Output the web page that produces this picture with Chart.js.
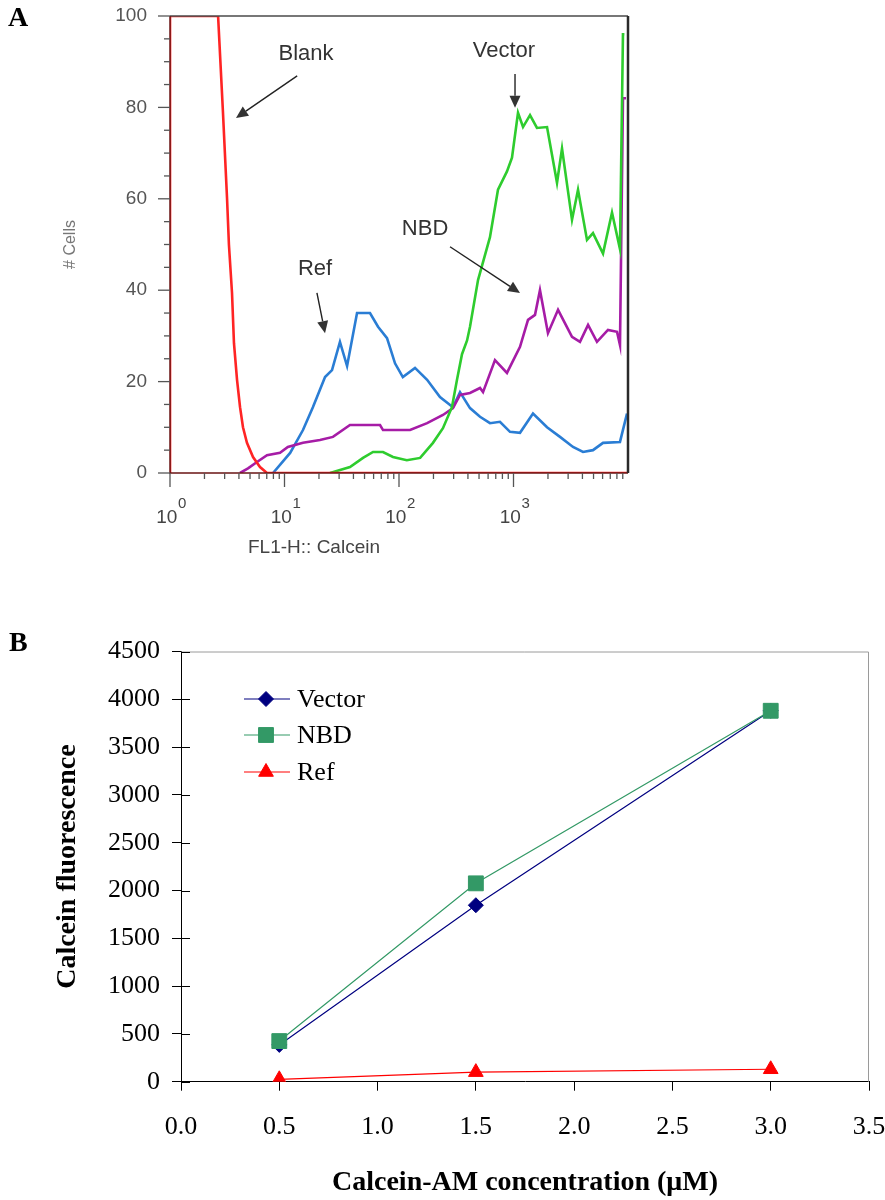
<!DOCTYPE html>
<html>
<head>
<meta charset="utf-8">
<script src="https://cdn.jsdelivr.net/npm/chart.js"></script>
<style>
  body { margin: 0; background: #fff; width: 885px; height: 1200px; position: relative; overflow: hidden; }
  #wrapA { position: absolute; left: 0; top: 0; width: 696px; height: 570px; }
  #wrapB { position: absolute; left: 0; top: 600px; width: 885px; height: 600px; }
  .panel { position: absolute; font: bold 28px "Liberation Serif", "Times New Roman", serif; line-height: 1; }
</style>
</head>
<body>
<div id="wrapA"><canvas id="histChart" width="696" height="570"></canvas></div>
<div id="wrapB"><canvas id="doseChart" width="885" height="600"></canvas></div>
<div class="panel" style="left:8px; top:3px;">A</div>
<div class="panel" style="left:9px; top:628px;">B</div>
<script>
// ---- panel A: flow cytometry histogram (FL1-H channel, log scale) ----
const blankX = [1, 1, 2.63, 2.90, 3.15, 3.27, 3.48, 3.62, 3.85, 4.09, 4.34, 4.70, 5.31, 6.11, 7.03, 10000];
const blankY = [0, 100, 100, 79, 60, 50, 39.4, 28.4, 20.4, 14.4, 10, 6.6, 3.5, 1.3, 0, 0];

const refX = [7.94, 11.2, 14.5, 17.7, 22.6, 26.0, 30.5, 35.2, 43.0, 55.8, 65.6, 78.6, 92.3, 108, 138, 176, 228, 296, 341, 417,
              510, 623, 762, 932, 1140, 1480, 1963, 2547, 3311, 4046, 4946, 6050, 8511, 9800];
const refY = [0, 4.4, 9.4, 14.4, 21, 22.5, 28.7, 23.4, 35, 35, 32, 29.5, 24, 21, 23, 20.4, 16.6, 14.4, 17.7, 14.2,
              12.3, 10.9, 11.2, 9, 8.8, 13, 10, 7.9, 5.7, 4.6, 5, 6.6, 6.8, 13];

const nbdX = [4.09, 4.80, 5.75, 7.03, 9.14, 10.7, 14.5, 20.4, 26.5, 37.3, 68.3, 72.5, 125, 176, 242, 296, 341, 417, 510, 542,
              689, 877, 1140, 1339, 1541, 1703, 2000, 2449, 3243, 3808, 4478, 5358, 6683, 8016, 8511, 9036, 9610];
const nbdY = [0, 1, 2.4, 3.9, 4.4, 5.7, 6.6, 7.2, 7.9, 10.5, 10.5, 9.4, 9.4, 10.9, 12.7, 14.2, 17.1, 17.5, 18.6, 17.7,
              24.7, 21.9, 27.6, 33.5, 34.6, 40, 30.6, 35.7, 29.8, 28.7, 32.4, 28.7, 31.3, 30.9, 28, 82, 82];

const vecX = [25.0, 37.3, 48.5, 59.3, 72.5, 88.6, 117, 153, 198, 242, 290, 321, 355, 393, 417, 490, 623, 732, 877, 970,
              1095, 1211, 1394, 1603, 1963, 2399, 2653, 3243, 3660, 4385, 4946, 6050, 7250, 8511, 9036, 9300];
const vecY = [0, 1.3, 3.3, 4.6, 4.6, 3.5, 2.8, 3.3, 6.6, 9.8, 14.4, 20.4, 26, 29, 32, 42.2, 51.6, 62, 66, 69,
              78.8, 75.7, 78.3, 75.5, 75.7, 63.5, 71, 55.4, 62, 51, 52.5, 48, 57, 49, 96, 96];

const decades = [1, 10, 100, 1000];
const decadeExponents = ['0', '1', '2', '3'];

// labels with arrows, in data units
const callouts = [
  { text: 'Blank',  x: 15.4, y: 91.7, from: [12.9, 86.9], to: [3.77, 77.7] },
  { text: 'Vector', x: 826,  y: 92.3, from: [1031, 87.3], to: [1031, 79.9] },
  { text: 'Ref',    x: 18.5, y: 44.6, from: [19.2, 39.4], to: [22.6, 30.6] },
  { text: 'NBD',    x: 169,  y: 53.4, from: [279, 49.5],  to: [1140, 39.4] },
];

// ---- panel B: dose response ----
const concentration = [0.5, 1.5, 3.0];
const vectorValues = [385, 1846, 3880];
const nbdValues = [425, 2075, 3880];
const refValues = [25, 100, 130];

const pairs = (xs, ys) => xs.map((x, i) => ({ x: x, y: ys[i] }));
const sansFont = '"Liberation Sans", Arial, sans-serif';
const serifFont = '"Liberation Serif", "Times New Roman", serif';

// nudge the layout padding so the plot box sits where the figure has it
function pinTopRight(chart, top, right) {
  const a = chart.chartArea;
  const p = chart.options.layout.padding;
  const dTop = a.top - top;
  const dRight = right - a.right;
  if (Math.abs(dTop) > 0.2 || Math.abs(dRight) > 0.2) {
    p.top -= dTop;
    p.right += dRight;
    chart.update();
  }
}

function arrow(ctx, x1, y1, x2, y2) {
  const ang = Math.atan2(y2 - y1, x2 - x1);
  const head = 12, half = 5.5;
  const bx = x2 - head * Math.cos(ang), by = y2 - head * Math.sin(ang);
  ctx.beginPath();
  ctx.moveTo(x1, y1);
  ctx.lineTo(bx, by);
  ctx.stroke();
  ctx.beginPath();
  ctx.moveTo(x2, y2);
  ctx.lineTo(bx + half * Math.sin(ang), by - half * Math.cos(ang));
  ctx.lineTo(bx - half * Math.sin(ang), by + half * Math.cos(ang));
  ctx.closePath();
  ctx.fill();
}

const histOverlay = {
  id: 'histOverlay',
  afterDatasetsDraw(chart) {
    const { ctx, chartArea: a, scales: { x, y } } = chart;
    ctx.save();
    // frame
    ctx.lineWidth = 1.5;
    ctx.strokeStyle = '#4a4a4a';
    ctx.beginPath(); ctx.moveTo(a.left, a.top); ctx.lineTo(a.right, a.top); ctx.stroke();
    ctx.strokeStyle = '#6a1414';
    ctx.beginPath(); ctx.moveTo(a.left, a.top); ctx.lineTo(a.left, a.bottom); ctx.lineTo(a.right, a.bottom); ctx.stroke();
    ctx.lineWidth = 2.5;
    ctx.strokeStyle = '#2a2a2a';
    ctx.beginPath(); ctx.moveTo(a.right, a.top); ctx.lineTo(a.right, a.bottom); ctx.stroke();

    // y tick marks
    ctx.lineWidth = 1.3;
    ctx.strokeStyle = '#555';
    y.ticks.forEach(t => {
      const py = y.getPixelForValue(t.value);
      const len = t.value % 20 === 0 ? 12 : 6;
      ctx.beginPath(); ctx.moveTo(a.left - len, py); ctx.lineTo(a.left, py); ctx.stroke();
    });
    // x tick marks
    x.ticks.forEach(t => {
      if (t.value >= 10000) return;
      const px = x.getPixelForValue(t.value);
      const len = decades.includes(t.value) ? 14 : 6;
      ctx.beginPath(); ctx.moveTo(px, a.bottom); ctx.lineTo(px, a.bottom + len); ctx.stroke();
    });
    // x tick labels 10^n
    ctx.fillStyle = '#444';
    ctx.textBaseline = 'middle';
    ctx.textAlign = 'left';
    decades.forEach((v, i) => {
      const px = x.getPixelForValue(v);
      ctx.font = '19px ' + sansFont;
      const w1 = ctx.measureText('10').width;
      ctx.font = '15px ' + sansFont;
      const w2 = ctx.measureText(decadeExponents[i]).width;
      const start = px + 1 - (w1 + w2) / 2;
      ctx.font = '19px ' + sansFont;
      ctx.fillText('10', start, a.bottom + 45);
      ctx.font = '15px ' + sansFont;
      ctx.fillText(decadeExponents[i], start + w1 + 0.5, a.bottom + 31);
    });

    // callouts
    ctx.fillStyle = '#333';
    ctx.strokeStyle = '#222';
    ctx.lineWidth = 1.4;
    ctx.font = '22px ' + sansFont;
    ctx.textAlign = 'center';
    callouts.forEach(c => {
      ctx.fillText(c.text, x.getPixelForValue(c.x), y.getPixelForValue(c.y));
      arrow(ctx,
        x.getPixelForValue(c.from[0]), y.getPixelForValue(c.from[1]),
        x.getPixelForValue(c.to[0]), y.getPixelForValue(c.to[1]));
    });
    ctx.restore();
  }
};

const histChart = new Chart(document.getElementById('histChart'), {
  type: 'line',
  data: {
    datasets: [
      { label: 'Blank', data: pairs(blankX, blankY), borderColor: '#ff2424' },
      { label: 'Vector', data: pairs(vecX, vecY), borderColor: '#2ecc2e' },
      { label: 'NBD', data: pairs(nbdX, nbdY), borderColor: '#a61ca6' },
      { label: 'Ref', data: pairs(refX, refY), borderColor: '#2a7dd4' },
    ],
  },
  options: {
    responsive: false,
    animation: false,
    layout: { padding: { top: 16, right: 68, left: 0, bottom: 0 } },
    elements: {
      point: { radius: 0 },
      line: { borderWidth: 2.6, tension: 0, fill: false },
    },
    plugins: {
      legend: { display: false },
      tooltip: { enabled: false },
      title: {
        display: true,
        text: 'FL1-H:: Calcein',
        position: 'bottom',
        color: '#444',
        font: { family: sansFont, size: 19, weight: 'normal' },
        padding: { top: 0, bottom: 10.6 },
      },
    },
    scales: {
      x: {
        type: 'logarithmic',
        min: 1,
        max: 10000,
        grid: { display: false, drawTicks: false },
        border: { display: false },
        ticks: { display: false },
        afterBuildTicks(scale) {
          const list = [];
          decades.forEach(d => { for (let m = 1; m <= 9; m++) list.push({ value: d * m }); });
          scale.ticks = list;
        },
        afterFit(scale) { scale.height = 63.6; scale.paddingLeft = 0; scale.paddingRight = 0; },
      },
      y: {
        min: 0,
        max: 100,
        grid: { display: false, drawTicks: false },
        border: { display: false },
        ticks: {
          stepSize: 5,
          autoSkip: false,
          padding: 23,
          color: '#555',
          font: { family: sansFont, size: 19 },
          callback: v => (v % 20 === 0 ? String(v) : ''),
        },
        title: {
          display: true,
          text: '# Cells',
          color: '#777',
          font: { family: sansFont, size: 16 },
          padding: { top: 61, bottom: 0 },
        },
        afterFit(scale) { scale.width = 170; scale.paddingTop = 0; scale.paddingBottom = 0; },
      },
    },
  },
  plugins: [histOverlay],
});
pinTopRight(histChart, 16, 628);

// ---- panel B ----
function fallbackPoint(ctx, style, r, cx, cy) {
  ctx.beginPath();
  if (style === 'rectRot') {
    ctx.moveTo(cx, cy - r); ctx.lineTo(cx + r, cy); ctx.lineTo(cx, cy + r); ctx.lineTo(cx - r, cy);
  } else if (style === 'rect') {
    const s = r * Math.SQRT1_2;
    ctx.rect(cx - s, cy - s, 2 * s, 2 * s);
  } else {
    ctx.moveTo(cx, cy - r);
    ctx.lineTo(cx + r * Math.sin(2 * Math.PI / 3), cy - r * Math.cos(2 * Math.PI / 3));
    ctx.lineTo(cx + r * Math.sin(4 * Math.PI / 3), cy - r * Math.cos(4 * Math.PI / 3));
  }
  ctx.closePath();
  ctx.fill();
}

const doseOverlay = {
  id: 'doseOverlay',
  afterDatasetsDraw(chart) {
    const { ctx, chartArea: a, scales: { y } } = chart;
    ctx.save();
    // grey frame on top and right
    ctx.strokeStyle = '#9a9a9a';
    ctx.lineWidth = 1;
    ctx.beginPath(); ctx.moveTo(a.left, a.top + 0.5); ctx.lineTo(a.right - 0.5, a.top + 0.5); ctx.lineTo(a.right - 0.5, a.bottom); ctx.stroke();
    // y ticks cross the axis
    ctx.strokeStyle = '#000';
    y.ticks.forEach(t => {
      const py = Math.round(y.getPixelForValue(t.value)) + 0.5;
      ctx.beginPath(); ctx.moveTo(a.left, py); ctx.lineTo(a.left + 9, py); ctx.stroke();
    });
    // legend
    ctx.font = '26px ' + serifFont;
    ctx.textBaseline = 'middle';
    ctx.textAlign = 'left';
    const rows = [47.5, 83.5, 120.5];
    chart.data.datasets.forEach((ds, i) => {
      const cy = a.top + rows[i];
      const x0 = a.left + 63, x1 = a.left + 109, cx = a.left + 85;
      ctx.strokeStyle = ds.borderColor;
      ctx.fillStyle = ds.backgroundColor;
      ctx.lineWidth = ds.borderWidth || 1.2;
      ctx.beginPath(); ctx.moveTo(x0, cy); ctx.lineTo(x1, cy); ctx.stroke();
      if (Chart.helpers && Chart.helpers.drawPoint) {
        ctx.lineWidth = 1;
        Chart.helpers.drawPoint(ctx, { pointStyle: ds.pointStyle, radius: ds.pointRadius, rotation: 0, borderWidth: 1 }, cx, cy);
      } else {
        fallbackPoint(ctx, ds.pointStyle, ds.pointRadius, cx, cy);
      }
      ctx.fillStyle = '#000';
      ctx.fillText(ds.label, a.left + 116, cy + 1);
    });
    ctx.restore();
  }
};

const doseChart = new Chart(document.getElementById('doseChart'), {
  type: 'line',
  data: {
    datasets: [
      { label: 'Vector', data: pairs(concentration, vectorValues), borderColor: '#000080', backgroundColor: '#000080',
        pointStyle: 'rectRot', pointRadius: 7.5, order: 2 },
      { label: 'NBD', data: pairs(concentration, nbdValues), borderColor: '#339966', backgroundColor: '#339966',
        pointStyle: 'rect', pointRadius: 10.5, order: 1 },
      { label: 'Ref', data: pairs(concentration, refValues), borderColor: '#ff0000', backgroundColor: '#ff0000',
        pointStyle: 'triangle', pointRadius: 8.5, order: 0 },
    ],
  },
  options: {
    responsive: false,
    animation: false,
    layout: { padding: { top: 51.5, right: 16, left: 0, bottom: 0 } },
    elements: {
      line: { borderWidth: 1.2, tension: 0, fill: false },
      point: { borderWidth: 1 },
    },
    plugins: {
      legend: { display: false },
      tooltip: { enabled: false },
    },
    scales: {
      x: {
        type: 'linear',
        min: 0,
        max: 3.5,
        grid: { drawOnChartArea: false, color: '#000', tickLength: 9 },
        border: { color: '#000', width: 1 },
        ticks: {
          stepSize: 0.5,
          padding: 21,
          color: '#000',
          font: { family: serifFont, size: 26 },
          callback: v => v.toFixed(1),
        },
        title: {
          display: true,
          text: 'Calcein-AM concentration (μM)',
          color: '#000',
          font: { family: serifFont, size: 28, weight: 'bold' },
          padding: { top: 0, bottom: 0 },
        },
        afterFit(scale) { scale.height = 118.3; scale.paddingLeft = 0; scale.paddingRight = 0; },
      },
      y: {
        min: 0,
        max: 4500,
        grid: { drawOnChartArea: false, color: '#000', tickLength: 9 },
        border: { color: '#000', width: 1 },
        ticks: {
          stepSize: 500,
          padding: 12,
          color: '#000',
          font: { family: serifFont, size: 26 },
          callback: v => String(v),
        },
        title: {
          display: true,
          text: 'Calcein fluorescence',
          color: '#000',
          font: { family: serifFont, size: 28, weight: 'bold' },
          padding: { top: 51.2, bottom: 0 },
        },
        afterFit(scale) { scale.width = 181; scale.paddingTop = 0; scale.paddingBottom = 0; },
      },
    },
  },
  plugins: [doseOverlay],
});
pinTopRight(doseChart, 51.5, 869);
</script>
</body>
</html>
